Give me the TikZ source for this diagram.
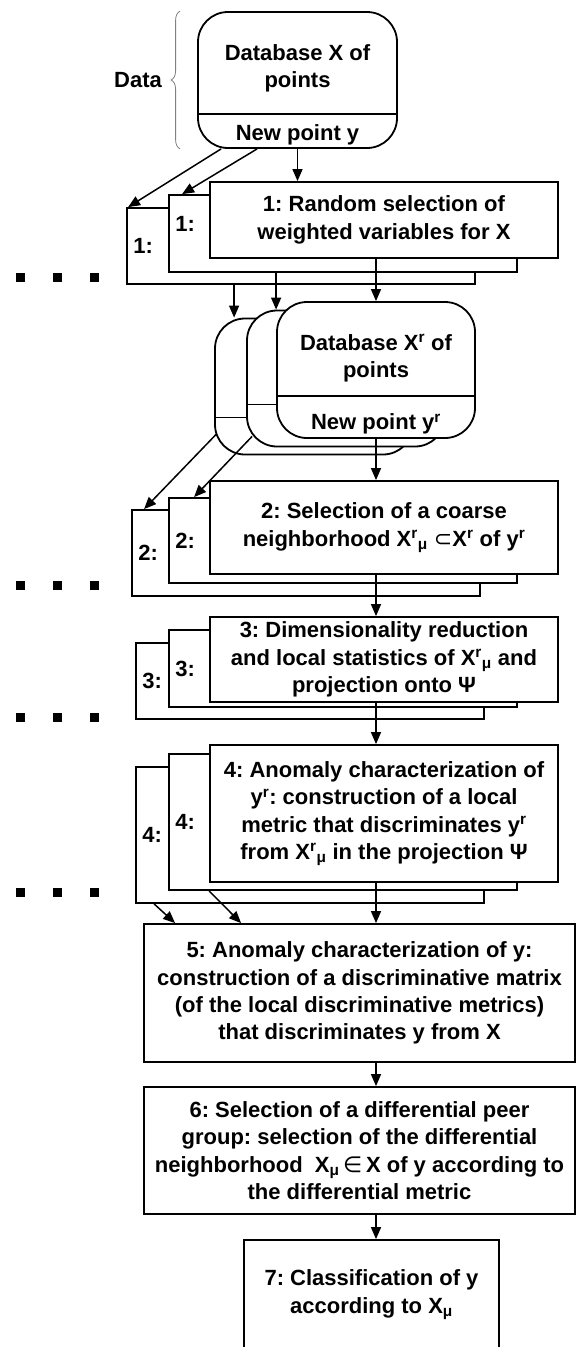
\documentclass[tikz,border=0pt]{standalone}
\usepackage{fontspec}
\setmainfont{Liberation Sans}
\newfontfamily\symfnt{DejaVu Sans}
\usetikzlibrary{arrows.meta,decorations.pathreplacing}
\frenchspacing

\newcommand{\sXr}{X\textsuperscript{r}}
\newcommand{\sXrmu}{X\textsuperscript{r}\textsubscript{μ}}
\newcommand{\syr}{y\textsuperscript{r}}
\newcommand{\sXmu}{X\textsubscript{μ}}

\begin{document}
\begin{tikzpicture}[x=1pt,y=-1pt,
    font=\bfseries\fontsize{22}{27.3}\selectfont,
    stepbox/.style={draw,fill=white,line width=1.8pt,align=center,minimum width=348pt,inner sep=2pt},
    dbbox/.style={draw,fill=white,line width=1.8pt,rounded corners=30pt,minimum width=198pt,minimum height=136pt},
    lbl/.style={inner sep=0pt,align=center},
    arr/.style={line width=1.5pt,-{Triangle[length=12pt,width=10pt]}}]

    \useasboundingbox (0,0) rectangle (576,1347);
    \clip (0,0) rectangle (576,1347);

    % data
    \node[dbbox, minimum width=199pt] (dat) at (297.5,80) {};
    \draw[line width=1.8pt] ([yshift=35pt]dat.south west) -- ([yshift=35pt]dat.south east);
    \node[lbl] (datA) at (297.5,68) {Database X of\\points};
    \node[lbl] (datB) at (297.5,135) {New point y};
    \draw[gray, line width=0.8pt, decorate, decoration={brace,amplitude=9pt}]
        ([xshift=-17pt]dat.south west) -- ([xshift=-17pt]dat.north west);
    \node[lbl, anchor=east] (datL) at ([xshift=-35pt]dat.west) {Data};

    % the dots
    \foreach \yy in {277,585,717,892}
        \foreach \xx in {20,57,94}
            \fill (\xx-4.5,\yy-4.5) rectangle (\xx+4.5,\yy+4.5);

    % step 1
    \node[stepbox, minimum height=76pt] (s1b) at (301,246) {};
    \node[lbl] (s1bL) at ([xshift=17pt]s1b.west) {1:};
    \node[stepbox, minimum height=77pt] (s1m) at (343,233.5) {};
    \node[lbl] (s1mL) at ([xshift=17pt,yshift=10pt]s1m.west) {1:};
    \node[stepbox, minimum height=76pt] (s1f) at (384,220) {1: Random selection of\\weighted variables for X};

    % database X^r
    \node[dbbox] (xrB) at (314,386.5) {};
    \draw[line width=1.8pt] ([yshift=38pt]xrB.south west) -- ([yshift=38pt]xrB.south east);
    \node[dbbox] (xrM) at (346,378.5) {};
    \draw[line width=1.8pt] ([yshift=43pt]xrM.south west) -- ([yshift=43pt]xrM.south east);
    \node[dbbox] (xrF) at (376,370) {};
    \draw[line width=1.8pt] ([yshift=43pt]xrF.south west) -- ([yshift=43pt]xrF.south east);
    \node[lbl] (xrA) at (376,358) {Database \sXr{} of\\points};
    \node[lbl] (xrC) at (376,424) {New point \syr};

    % step 2
    \node[stepbox, minimum height=86pt] (s2b) at (306,553) {};
    \node[lbl] (s2bL) at ([xshift=17pt]s2b.west) {2:};
    \node[stepbox, minimum height=85pt] (s2m) at (343,540.5) {};
    \node[lbl] (s2mL) at ([xshift=17pt]s2m.west) {2:};
    \node[stepbox, minimum height=93pt] (s2f) at (384,527.5) {2: Selection of a coarse\\neighborhood \sXrmu{} {\symfnt\mdseries ⊂}\sXr{} of \syr};

    % step 3
    \node[stepbox, minimum height=76pt] (s3b) at (310,681) {};
    \node[lbl] (s3bL) at ([xshift=17pt]s3b.west) {3:};
    \node[stepbox, minimum height=77pt] (s3m) at (343,668.5) {};
    \node[lbl] (s3mL) at ([xshift=17pt]s3m.west) {3:};
    \node[stepbox, minimum height=85pt] (s3f) at (384,659.5) {3: Dimensionality reduction\\and local statistics of \sXrmu{} and\\projection onto Ψ};

    % step 4
    \node[stepbox, minimum height=136pt] (s4b) at (310,835) {};
    \node[lbl] (s4bL) at ([xshift=17pt]s4b.west) {4:};
    \node[stepbox, minimum height=136pt] (s4m) at (343,822) {};
    \node[lbl] (s4mL) at ([xshift=17pt]s4m.west) {4:};
    \node[stepbox, minimum height=137pt] (s4f) at (384,813.5) {4: Anomaly characterization of\\\syr: construction of a local\\metric that discriminates \syr\\from \sXrmu{} in the projection Ψ};

    % steps 5 to 7
    \node[stepbox, minimum width=431pt, minimum height=138pt] (s5) at (359.5,993) {5: Anomaly characterization of y:\\construction of a discriminative matrix\\(of the local discriminative metrics)\\that discriminates y from X};
    \node[stepbox, minimum width=431pt, minimum height=127pt] (s6) at (359.5,1150.5) {6: Selection of a differential peer\\group: selection of the differential\\neighborhood \ \sXmu\,{\symfnt\mdseries ∈}\,X of y according to\\the differential metric};
    \node[stepbox, minimum width=255pt, minimum height=109pt] (s7) at (371.5,1294.5) {7: Classification of y\\according to \sXmu};

    % arrows
    \draw[arr] ([xshift=24pt]dat.south west) -- ([xshift=2pt]s1b.north west);
    \draw[arr] ([xshift=60pt]dat.south west) -- ([xshift=14pt]s1m.north west);
    \draw[arr] (dat.south) -- (dat.south |- s1f.north);

    \draw[arr] ([xshift=108pt]s1b.south west) -- ([xshift=20pt]xrB.north west);
    \draw[arr] ([xshift=108pt]s1m.south west) -- ([xshift=30pt]xrM.north west);
    \draw[arr] (s1f.south -| xrF) -- (xrF.north);

    \draw[arr] ([xshift=2pt,yshift=21pt]xrB.south west) -- ([xshift=13pt]s2b.north west);
    \draw[arr] ([xshift=6pt,yshift=11pt]xrM.south west) -- ([xshift=26pt]s2m.north west);
    \draw[arr] (xrF.south) -- (xrF.south |- s2f.north);

    \draw[arr] (s2f.south -| xrF) -- (s3f.north -| xrF);
    \draw[arr] (s3f.south -| xrF) -- (s4f.north -| xrF);

    \draw[arr] ([xshift=19pt]s4b.south west) -- ([xshift=32pt]s5.north west);
    \draw[arr] ([xshift=41pt]s4m.south west) -- ([xshift=98pt]s5.north west);
    \draw[arr] (s4f.south -| xrF) -- (s5.north -| xrF);

    \draw[arr] (s5.south -| xrF) -- (s6.north -| xrF);
    \draw[arr] (s6.south -| xrF) -- (s7.north -| xrF);
\end{tikzpicture}
\end{document}
